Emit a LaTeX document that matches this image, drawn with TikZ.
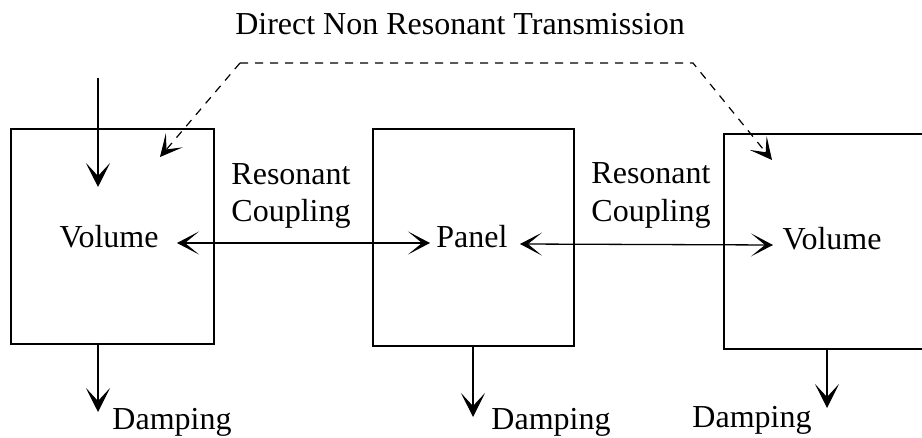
\documentclass[tikz,border=0pt]{standalone}
\usepackage{fontspec}
\setmainfont{Liberation Serif}
\usetikzlibrary{arrows.meta}
\begin{document}
\begin{tikzpicture}[x=1pt,y=-1pt,
  boxnode/.style={draw,line width=1.6pt,inner sep=0pt,anchor=north west},
  lbl/.style={font=\fontsize{32}{36}\selectfont,anchor=base,inner sep=0pt},
  flow/.style={line width=1.3pt,-{Stealth[length=24pt,width=24pt,inset=13pt]}},
  flowboth/.style={line width=1.3pt,{Stealth[length=22pt,width=23pt,inset=14pt]}-{Stealth[length=22pt,width=23pt,inset=14pt]}},
  dashflow/.style={line width=1.2pt,dash pattern=on 8pt off 7pt,-{Stealth[length=22pt,width=22pt,inset=12pt]}}]
\useasboundingbox (0,0) rectangle (922,438);
\clip (0,0) rectangle (922,438);
\fill[white] (0,0) rectangle (922,438);
% boxes
\node[boxnode,minimum width=203pt,minimum height=215pt] (b1) at (10,128) {};
\node[boxnode,minimum width=201pt,minimum height=217pt] (b2) at (372,128) {};
\node[boxnode,minimum width=210pt,minimum height=215pt] (b3) at (723,133) {};
% labels
\node[lbl] (title) at (460,35) {Direct Non Resonant Transmission};
\node[lbl] (vol1) at (109,248) {Volume};
\node[lbl] (panel) at (472,248) {Panel};
\node[lbl] (vol3) at (832,250) {Volume};
\node[lbl] (res1) at (291,185) {Resonant};
\node[lbl] (cou1) at (291,222) {Coupling};
\node[lbl] (res2) at (651,184) {Resonant};
\node[lbl] (cou2) at (651,222) {Coupling};
\node[lbl] (damp1) at (172,430) {Damping};
\node[lbl] (damp2) at (551,430) {Damping};
\node[lbl] (damp3) at (752,428) {Damping};
% connector ends
\coordinate (in1s) at (98,78);
\coordinate (in1e) at (98,187);
\coordinate (c1l) at (177,243);
\coordinate (c1r) at (430,243);
\coordinate (c2l) at (520,244);
\coordinate (c2r) at (773,245);
\coordinate (d1s) at (98,343);
\coordinate (d1e) at (98,412);
\coordinate (d2s) at (473,345);
\coordinate (d2e) at (473,417);
\coordinate (d3s) at (827,348);
\coordinate (d3e) at (827,408);
\coordinate (tl) at (240,63);
\coordinate (tr) at (693,63);
\coordinate (t1) at (160,157);
\coordinate (t3) at (772,160);
% connectors
\draw[flow] (in1s) -- (in1e);
\draw[flowboth] (c1l) -- (c1r);
\draw[flowboth] (c2l) -- (c2r);
\draw[flow] (d1s) -- (d1e);
\draw[flow] (d2s) -- (d2e);
\draw[flow] (d3s) -- (d3e);
\draw[dashflow] (tl) -- (t1);
\draw[dashflow] (tl) -- (tr) -- (t3);
\end{tikzpicture}
\end{document}
